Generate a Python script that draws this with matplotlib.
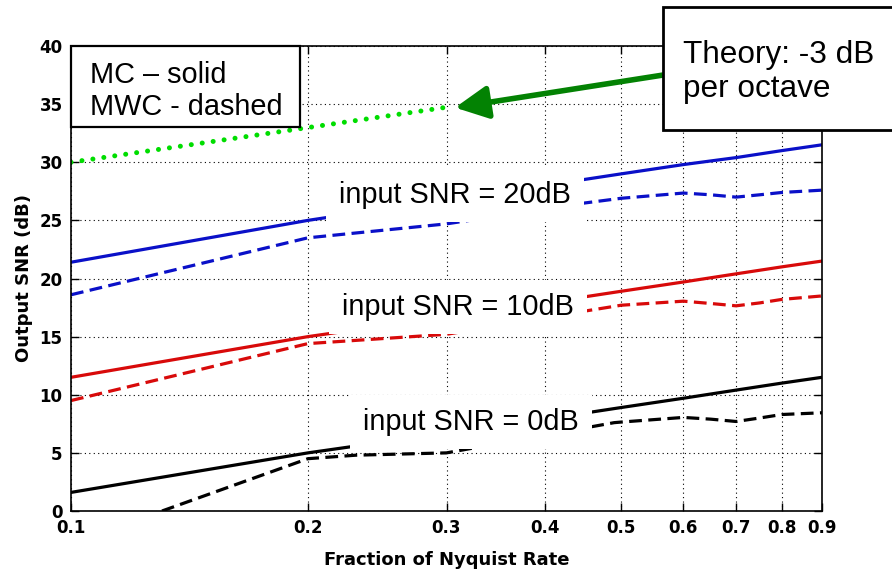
import matplotlib
matplotlib.use('Agg')
import matplotlib.pyplot as plt
from matplotlib.patches import Rectangle

# fraction of Nyquist rate (log axis)
frac = [0.1, 0.2, 0.3, 0.4, 0.5, 0.6, 0.7, 0.8, 0.9]

# MC (solid) output SNR, dB
mc_20 = [21.4, 25.0, 26.8, 28.0, 29.0, 29.8, 30.4, 31.0, 31.5]
mc_10 = [11.5, 15.0, 16.7, 17.9, 18.9, 19.7, 20.4, 21.0, 21.5]
mc_0 = [1.6, 5.0, 6.7, 7.9, 8.9, 9.7, 10.4, 11.0, 11.5]

# MWC (dashed) output SNR, dB
mwc_frac = [0.1, 0.2, 0.3, 0.45, 0.5, 0.6, 0.65, 0.7, 0.75, 0.8, 0.9]
mwc_20 = [18.6, 23.5, 24.7, 26.5, 26.9, 27.35, 27.2, 27.0, 27.2, 27.4, 27.6]
mwc_10 = [9.5, 14.4, 15.2, 17.2, 17.7, 18.05, 17.85, 17.65, 17.9, 18.2, 18.5]
mwc_0_frac = [0.1305, 0.2, 0.23, 0.3, 0.49, 0.5, 0.6, 0.65, 0.7, 0.75, 0.8, 0.9]
mwc_0 = [0.0, 4.5, 4.8, 5.0, 7.6, 7.65, 8.05, 7.9, 7.7, 8.0, 8.3, 8.45]

# theory line: -3 dB per octave
theory_frac = [0.1, 0.305]
theory_snr = [30.0, 34.8]

xticks = [0.1, 0.2, 0.3, 0.4, 0.5, 0.6, 0.7, 0.8, 0.9]
yticks = [0, 5, 10, 15, 20, 25, 30, 35, 40]

blue = '#0a10c8'
red = '#d80a0a'
green_dots = '#00dd00'
green_arrow = '#038203'

fig = plt.figure(figsize=(8.92, 5.72), dpi=100)
ax = fig.add_axes([71/892, 61/572, 751/892, 465/572])

lw = 2.3
ax.plot(frac, mc_20, color=blue, lw=lw, zorder=3)
ax.plot(frac, mc_10, color=red, lw=lw, zorder=3)
ax.plot(frac, mc_0, color='black', lw=lw, zorder=3)
dash = (0, (4, 2))
ax.plot(mwc_frac, mwc_20, color=blue, lw=lw, linestyle=dash, zorder=3)
ax.plot(mwc_frac, mwc_10, color=red, lw=lw, linestyle=dash, zorder=3)
ax.plot(mwc_0_frac, mwc_0, color='black', lw=lw, linestyle=dash, zorder=3)

ax.plot(theory_frac, theory_snr, color=green_dots, lw=3.6,
        linestyle=(0, (0.01, 2.2)), dash_capstyle='round', zorder=3)

ax.set_xscale('log')
ax.set_xlim(0.1, 0.9)
ax.set_ylim(0, 40)
ax.set_xticks(xticks)
ax.set_xticklabels([str(t) for t in xticks])
ax.minorticks_off()
ax.set_yticks(yticks)
ax.tick_params(direction='in', length=6, width=1, top=True, right=True,
               labelsize=12, pad=6)
for lab in ax.get_xticklabels() + ax.get_yticklabels():
    lab.set_fontweight('bold')
    lab.set_family('DejaVu Sans')
ax.grid(True, linestyle=(0, (1, 3)), color='black', lw=0.8)
for s in ax.spines.values():
    s.set_linewidth(1.2)
    s.set_zorder(4)

ax.set_xlabel('Fraction of Nyquist Rate', fontsize=13, fontweight='bold',
              family='DejaVu Sans', labelpad=10)
ax.set_ylabel('Output SNR (dB)', fontsize=13, fontweight='bold',
              family='DejaVu Sans', labelpad=5)

# labels with white boxes
lab_font = dict(fontsize=20.8, family='Liberation Sans', ha='center',
                va='baseline', zorder=6,
                bbox=dict(boxstyle='square,pad=0.45', facecolor='white',
                          edgecolor='none'))
ax.text(0.3076, 26.47, 'input SNR = 20dB', **lab_font)
ax.text(0.3102, 16.86, 'input SNR = 10dB', **lab_font)
ax.text(0.3222, 6.97, 'input SNR = 0dB', **lab_font)

# legend box
ax.add_patch(Rectangle((0, 0.826), 0.305, 0.174, transform=ax.transAxes,
                       facecolor='white', edgecolor='black', lw=1.6,
                       zorder=7, clip_on=False))
ax.text(0.0253, 0.920, 'MC \u2013 solid', transform=ax.transAxes,
        fontsize=20.8, family='Liberation Sans', va='baseline', zorder=8)
ax.text(0.0253, 0.852, 'MWC - dashed', transform=ax.transAxes,
        fontsize=20.8, family='Liberation Sans', va='baseline', zorder=8)

# theory arrow and box
ax.annotate('', xy=(0.3076, 34.7), xytext=(0.565, 37.5),
            arrowprops=dict(arrowstyle='-|>,head_length=1.0,head_width=0.5',
                            color=green_arrow, lw=4, mutation_scale=20,
                            shrinkA=0, shrinkB=0), zorder=5)
fig.patches.append(Rectangle((663/892, 1 - 130/572), 0.4, 123/572,
                             transform=fig.transFigure, facecolor='white',
                             edgecolor='black', lw=2, zorder=10))
fig.text(683/892, 1 - 63/572, 'Theory: -3 dB', fontsize=22.7,
         family='Liberation Sans', va='baseline', zorder=11)
fig.text(683/892, 1 - 97/572, 'per octave', fontsize=22.7,
         family='Liberation Sans', va='baseline', zorder=11)

fig.savefig('out.png', dpi=100)
